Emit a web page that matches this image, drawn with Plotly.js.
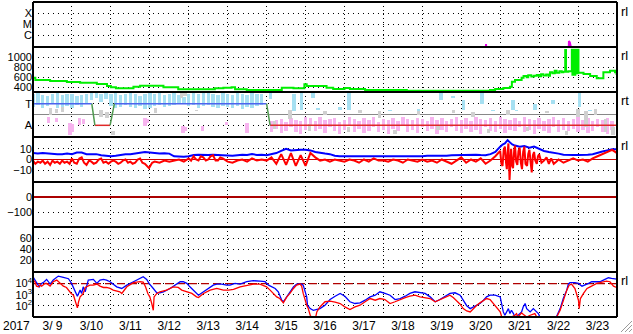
<!DOCTYPE html>
<html><head><meta charset="utf-8">
<script src="https://cdn.plot.ly/plotly-3.0.1.min.js"></script>
<style>html,body{margin:0;padding:0;background:#fff;}#chart{width:633px;height:334px;}</style>
</head><body><div id="chart"></div>
<script>
// ---------- DATA (day = day of March 2017, decimal) ----------
const xTickFormat = '%-m/%e';
const yearLabel = '2017';
const xrayLabels = ['C','M','X'];
const xrayTicks = [1e-6, 1e-5, 1e-4];
const xrayDay  = [9.0, 20.628, 20.636, 20.644, 22.76, 22.766, 22.79, 22.815, 22.83, 24.0];
const xrayFlux = [5e-8, 5e-8, 1.6e-7, 5e-8, 5e-8, 3.1e-7, 2.2e-7, 1.3e-7, 5e-8, 5e-8];

const speedTicks = [400, 600, 800, 1000];
const speedDay = [9.0,9.06,9.44,9.87,10.21,10.64,10.9,11.0,11.13,11.58,11.75,12.0,12.35,12.73,13.67,13.89,14.1,14.19,14.49,15.39,15.69,15.97,16.01,16.03,16.54,16.71,17.0,17.14,17.53,18.6,20.74,20.87,21.08,21.25,21.3,21.38,21.55,21.6,21.68,21.72,21.8,21.87,21.94,22.0,22.05,22.11,22.18,22.24,22.28,22.34,22.40,22.45,22.52,22.58,22.62,22.67,22.69,22.75,22.84,22.855,22.87,22.885,22.9,22.915,22.93,22.945,22.96,22.975,22.99,23.01,23.14,23.31,23.48,23.65,23.82,23.95,23.99];
const speedVal = [592,546,526,506,492,466,426,400,380,412,432,432,400,360,380,393,400,360,346,393,380,460,460,426,393,366,386,366,346,333,346,366,386,412,512,546,592,626,600,640,615,630,646,620,660,635,655,630,700,680,730,690,720,700,713,1146,713,720,1150,650,1140,700,1150,650,1150,700,1140,680,1150,693,666,626,580,700,733,700,646];

const stateLabels = ['T','A'];
const stateDay = [9.0, 10.51, 10.59, 10.98, 11.09, 15.0, 15.09, 24.0];
const stateVal = ['T','T','A','A','T','T','A','A'];

const cyanDay = [9.0,9.125,9.25,9.375,9.5,9.625,9.75,9.875,10.0,10.125,10.25,10.375,10.5,10.625,10.75,10.875,11.0,11.125,11.25,11.375,11.5,11.625,11.75,11.875,12.0,12.125,12.25,12.375,12.5,12.625,12.75,12.875,13.0,13.125,13.25,13.375,13.5,13.625,13.75,13.875,14.0,14.125,14.25,14.375,14.5,14.625,14.75,14.875,15.1,15.7,15.9,16.19,16.32,16.89,17.12,18.17,18.9,19.48,19.79,20.05,20.53,20.82,21.33,21.42,21.89,22.36,23.03,23.31];
const cyanLo  = [0.7,0.9,0.6,0.8,1.0,0.6,0.5,0.8,0.6,0.9,0.7,1.0,1.3,1.5,1.2,1.4,0.8,0.6,0.7,0.9,0.7,0.6,0.8,0.5,0.6,0.8,0.9,0.7,0.8,0.9,1.1,1.0,0.8,0.9,0.6,0.8,0.9,0.7,0.6,0.8,0.7,0.6,0.8,0.5,0.7,0.6,0.8,0.9,1.4,0.3,0.41,1.5,0.4,0.4,0.45,0.35,0.25,1.3,1.5,0.4,1.0,0.35,0.4,0.35,0.4,1.0,0.7,0.35];
const cyanHi  = [1.9,2.0,1.8,1.7,1.9,2.0,1.8,1.9,1.9,1.7,1.8,1.9,2.0,2.0,1.9,2.0,1.9,2.0,1.8,1.9,2.0,1.9,1.7,1.9,2.0,1.9,2.0,1.8,1.9,2.0,1.8,1.6,1.9,2.0,1.9,2.0,2.0,1.9,1.8,2.0,1.9,1.8,2.0,1.9,1.8,2.0,1.9,1.9,2.0,1.9,2.0,1.95,0.6,0.7,2.0,0.45,0.55,1.95,1.7,1.3,1.95,0.45,1.3,0.45,1.0,1.3,1.95,0.45];

const pinkDay = [9.4,9.6,9.95,10.02,10.2,10.3,11.88,11.93,12.85,12.92,13.35,13.97,14.5,15.125,15.25,15.375,15.5,15.625,15.75,15.875,16.0,16.125,16.25,16.375,16.5,16.625,16.75,16.875,17.0,17.125,17.25,17.375,17.5,17.625,17.75,17.875,18.0,18.125,18.25,18.375,18.5,18.625,18.75,18.875,19.0,19.125,19.25,19.375,19.5,19.625,19.75,19.875,20.0,20.125,20.25,20.375,20.5,20.625,20.75,20.875,21.0,21.125,21.25,21.375,21.5,21.625,21.75,21.875,22.0,22.125,22.25,22.375,22.5,22.625,22.75,22.875,23.0,23.125,23.25,23.375,23.5,23.625,23.75,23.875];
const pinkLo  = [-0.8,-0.7,-1.9,-1.6,-1.0,-0.9,-1.1,-0.8,-1.7,-1.5,-1.5,-1.0,-1.7,-1.6,-1.3,-1.7,-1.5,-1.2,-1.6,-1.8,-1.4,-1.0,-1.5,-1.3,-1.7,-1.2,-1.5,-1.8,-1.4,-1.1,-1.6,-1.3,-1.7,-1.5,-1.2,-1.6,-1.4,-1.8,-1.3,-1.5,-1.1,-1.6,-1.4,-1.7,-1.2,-1.5,-1.3,-1.8,-1.4,-1.6,-1.2,-1.5,-1.7,-1.3,-1.6,-1.4,-1.8,-1.2,-1.5,-1.6,-1.3,-1.7,-1.4,-1.5,-1.2,-1.6,-1.4,-1.8,-1.3,-1.5,-1.7,-1.2,-1.6,-1.4,-1.5,-1.3,-1.6,-1.4,-1.7,-1.5,-1.2,-1.6,-1.8,-1.4];
const pinkHi  = [-0.25,-0.3,-0.8,-0.9,-0.3,-0.4,-0.3,-0.4,-1.1,-1.2,-1.1,-0.7,-0.8,-0.6,-0.5,-0.4,-0.7,-0.3,-0.5,-0.6,-0.2,-0.3,-0.6,-0.2,-0.5,-0.4,-0.3,-0.7,-0.5,-0.2,-0.4,-0.6,-0.3,-0.5,-0.2,-0.7,-0.4,-0.5,-0.3,-0.6,-0.2,-0.4,-0.5,-0.3,-0.4,-0.6,-0.2,-0.5,-0.3,-0.6,-0.4,-0.2,-0.5,-0.3,-0.6,-0.2,-0.4,-0.5,-0.3,-0.6,-0.2,-0.4,-0.5,-0.3,-0.6,-0.2,-0.4,-0.5,-0.3,-0.6,-0.4,-0.2,-0.5,-0.3,-0.6,-0.4,-0.2,-0.5,-0.3,-0.6,-0.4,-0.5,-0.3,-0.6];

const grayDay = [9.45,9.6,9.75,10.75,10.9,11.05,12.15,12.82,12.9,13.2,15.2,15.6,16.1,16.5,17.1,17.4,17.9,18.3,18.9,19.4,19.8,20.3,20.7,21.2,21.7,22.2,22.7,23.0,23.2,23.45,23.7,23.9];
const grayLo  = [0.0,0.1,0.2,-0.2,-0.3,-1.9,0.1,1.5,1.7,0.3,-1.3,-0.4,-1.5,0.0,-1.6,0.1,-0.3,-1.8,0.0,-1.4,0.1,-0.2,-1.7,0.0,-1.5,0.1,-1.9,-0.2,-1.2,0.0,-1.6,-1.9];
const grayHi  = [0.6,0.5,0.7,0.4,0.2,-1.5,0.6,2.0,2.0,0.45,-0.6,0.4,-0.9,0.3,-1.2,0.4,0.3,-1.4,0.3,-1.0,0.4,0.2,-1.3,0.4,-1.2,0.3,-1.5,0.5,0.3,0.5,-0.4,-1.2];

const bTicks = [10, 0, -10];
const btDay = [9.0,9.125,9.25,9.375,9.5,9.625,9.75,9.875,10.0,10.125,10.25,10.375,10.5,10.625,10.75,10.875,11.0,11.125,11.25,11.375,11.5,11.625,11.75,11.875,12.0,12.125,12.25,12.375,12.5,12.625,12.75,12.875,13.0,13.125,13.25,13.375,13.5,13.625,13.75,13.875,14.0,14.125,14.25,14.375,14.5,14.625,14.75,14.875,15.0,15.125,15.25,15.375,15.5,15.625,15.75,15.875,16.0,16.125,16.25,16.375,16.5,16.625,16.75,16.875,17.0,17.125,17.25,17.375,17.5,17.625,17.75,17.875,18.0,18.125,18.25,18.375,18.5,18.625,18.75,18.875,19.0,19.125,19.25,19.375,19.5,19.625,19.75,19.875,20.0,20.125,20.25,20.375,20.5,20.625,20.75,20.875,21.0,21.06,21.12,21.19,21.25,21.31,21.38,21.5,21.62,21.75,21.87,22.0,22.125,22.25,22.375,22.5,22.625,22.75,22.875,23.0,23.125,23.25,23.375,23.5,23.625,23.75,23.875,24.0];
const btVal = [6,5.5,6,5.5,5,5,5,5.5,5,6.5,6.5,5,5,5,4,3.5,3,3.5,4.5,5,5,5.5,6.5,7,6.5,6,5.5,5.8,5.5,3,2.6,2.6,3,4.2,4.5,4,4.2,4.5,4.2,4,4.2,3.5,4,4.5,4.2,5,4.2,4.5,4,5,6,8,10,8.5,9,9,9,8.5,7,6,5.5,5,3.5,3,3,2.8,2.6,2.6,3,2.8,2.6,3,2.8,3,2.6,2.6,3,3.2,2.6,2.6,3,3.5,3.5,3.5,3.2,3.5,4,4.2,4.2,4,4.2,4.5,4.2,4,5,7,12,14,15,18,16,14,13,12,12.5,11,12,10,8,7,6.5,5.5,4.5,4,4.2,4.2,4,4.5,5,6.5,7.5,8.5,9.5,9.5];

const bzDay = [9.0,9.06,9.125,9.19,9.25,9.31,9.375,9.44,9.5,9.56,9.625,9.69,9.75,9.81,9.875,9.94,10.0,10.06,10.125,10.19,10.25,10.31,10.375,10.44,10.5,10.56,10.625,10.69,10.75,10.81,10.875,10.94,11.0,11.06,11.125,11.19,11.25,11.31,11.375,11.44,11.5,11.56,11.625,11.69,11.75,11.81,11.875,11.98,12.06,12.125,12.25,12.375,12.5,12.625,12.75,12.875,13.0,13.06,13.125,13.19,13.25,13.31,13.375,13.44,13.5,13.56,13.625,13.69,13.75,13.81,13.875,14.0,14.125,14.25,14.375,14.5,14.625,14.75,14.875,15.0,15.125,15.25,15.375,15.5,15.625,15.75,15.875,16.0,16.125,16.25,16.375,16.5,16.625,16.75,16.875,17.0,17.125,17.25,17.375,17.5,17.625,17.75,17.875,18.0,18.125,18.25,18.375,18.5,18.625,18.75,18.875,19.0,19.125,19.25,19.375,19.5,19.625,19.75,19.875,20.0,20.125,20.25,20.375,20.5,20.625,20.75,20.875,21.0,21.03,21.06,21.09,21.12,21.15,21.17,21.19,21.21,21.24,21.26,21.28,21.31,21.33,21.36,21.38,21.41,21.44,21.47,21.5,21.53,21.56,21.59,21.62,21.65,21.69,21.72,21.75,21.78,21.81,21.84,21.87,21.9,21.94,21.97,22.0,22.06,22.125,22.19,22.25,22.31,22.375,22.44,22.5,22.625,22.75,22.875,23.0,23.125,23.25,23.375,23.5,23.625,23.75,23.875,24.0];
const bzVal = [-1,-4,-2,-3,-1,-4,-2,-5,-1,-3,-2,-4,-1,-3,-2,-4,1,-3,-4,1,2,-3,-5,-1,-2,-4,-3,0,1,-3,-2,-4,-2,-1,-2,-4,-3,-1,0,-3,-2,-4,-3,0,1,-3,-4,-8,-3,-2,-3,-1,-2,-1,0,-2,1,-1,3,0,-1,3,2,-1,0,3,4,-1,-1,2,1,-2,-3,-1,0,-2,1,-1,0,-1,2,-4,5,-5,6,-6,4,-6,6,2,-1,0,-2,0,-1,-2,0,-1,-3,0,-2,1,-1,-1,-2,0,-1,-3,0,-1,-2,0,-2,-1,-3,0,-2,-4,-1,2,-3,0,-2,1,-4,-1,3,8,-4,-6,9,12,-3,-9,6,15,-19,4,10,-6,-8,9,13,-2,-5,8,11,-3,-9,7,12,-4,-6,5,9,-2,-12,4,7,-1,-4,3,5,-3,-1,2,-4,1,-4,-2,0,-3,-1,1,-1,0,-2,1,3,5,7,9,6];

const dstTicks = [0, -100];
const p6Ticks = [20, 40, 60];

const eTicks = [100, 1000, 10000];
const eTickText = ['10<sup>2</sup>','10<sup>3</sup>','10<sup>4</sup>'];
const eThreshold = 10000;
const eBlueDay = [9.00,9.05,9.11,9.16,9.22,9.29,9.35,9.44,9.52,9.65,9.78,9.91,9.99,10.08,10.14,10.21,10.25,10.29,10.34,10.42,10.55,10.64,10.72,10.81,10.89,10.98,11.15,11.28,11.41,11.58,11.75,11.83,11.92,11.98,12.09,12.18,12.26,12.35,12.52,12.65,12.78,12.86,12.95,13.03,13.16,13.25,13.38,13.50,13.63,13.72,13.85,13.97,14.06,14.19,14.32,14.49,14.66,14.83,14.96,15.05,15.13,15.22,15.30,15.39,15.43,15.52,15.60,15.69,15.77,15.90,15.94,15.99,16.03,16.05,16.12,16.20,16.29,16.37,16.50,16.63,16.76,16.89,17.01,17.14,17.27,17.40,17.53,17.66,17.79,17.91,18.04,18.17,18.30,18.43,18.56,18.68,18.81,18.94,19.07,19.20,19.33,19.45,19.58,19.71,19.84,19.97,20.05,20.14,20.23,20.31,20.40,20.48,20.57,20.65,20.74,20.87,21.00,21.04,21.08,21.12,21.17,21.21,21.25,21.29,21.34,21.38,21.46,21.55,21.59,21.64,21.68,21.77,21.85,21.94,21.98,22.02,22.10,22.38,22.45,22.54,22.62,22.71,22.75,22.79,22.92,23.01,23.10,23.18,23.27,23.35,23.44,23.56,23.69,23.78,23.86,23.99];
const eBlueExp = [4.62,4.32,3.96,3.71,4.02,4.17,4.38,3.96,4.32,4.68,4.56,4.44,4.02,3.41,2.86,3.41,3.11,3.71,3.26,4.32,4.38,4.02,4.32,4.38,4.32,4.17,3.71,3.56,3.86,4.17,4.47,4.62,4.38,4.02,3.56,3.17,3.17,3.26,3.56,3.86,4.17,4.17,4.02,3.71,3.26,2.95,3.26,3.56,3.86,3.95,3.95,3.86,3.86,4.02,3.95,4.17,4.26,4.23,4.17,3.86,3.71,3.56,3.26,2.50,2.36,2.80,3.26,3.71,3.95,3.95,3.86,3.26,2.80,2.05,1.74,1.59,1.65,1.74,2.05,2.56,2.86,3.11,2.86,2.36,2.20,2.26,2.50,2.80,2.95,3.26,3.11,2.95,2.56,2.65,2.86,3.11,3.26,3.20,3.11,2.80,2.36,2.56,2.80,3.11,3.17,2.95,2.50,2.00,1.74,1.89,2.05,2.20,2.50,2.80,2.95,2.95,2.80,2.05,1.44,1.14,1.44,1.74,1.29,1.59,1.29,0.98,1.14,1.44,1.89,2.20,1.74,1.44,1.74,1.44,1.29,0.98,0.50,0.50,0.98,1.74,2.65,3.41,3.95,4.08,4.08,4.02,3.77,3.86,4.02,4.17,4.17,4.17,4.38,4.53,4.47,4.41];
const eRedDay = [9.00,9.05,9.09,9.14,9.18,9.22,9.31,9.35,9.44,9.52,9.61,9.69,9.78,9.86,9.91,9.98,10.04,10.10,10.14,10.17,10.21,10.25,10.29,10.34,10.40,10.46,10.55,10.64,10.72,10.81,10.89,10.98,11.06,11.15,11.23,11.28,11.41,11.58,11.75,11.83,11.89,11.95,12.00,12.05,12.09,12.11,12.18,12.26,12.43,12.60,12.73,12.82,12.95,13.08,13.20,13.25,13.38,13.55,13.72,13.89,14.02,14.15,14.32,14.49,14.66,14.83,14.92,15.00,15.09,15.17,15.26,15.34,15.43,15.52,15.60,15.69,15.77,15.86,15.90,15.94,15.99,16.03,16.07,16.10,16.12,16.18,16.25,16.29,16.37,16.50,16.63,16.76,16.89,17.01,17.14,17.27,17.40,17.53,17.66,17.79,17.91,18.04,18.17,18.30,18.43,18.56,18.68,18.81,18.94,19.07,19.20,19.33,19.45,19.58,19.71,19.80,19.88,19.97,20.05,20.14,20.23,20.31,20.40,20.48,20.57,20.65,20.74,20.82,20.91,21.00,21.04,21.12,21.38,21.42,21.46,21.55,21.59,21.68,21.77,21.89,21.94,22.02,22.37,22.45,22.54,22.62,22.71,22.77,22.83,22.92,22.97,23.01,23.03,23.06,23.14,23.23,23.31,23.39,23.48,23.56,23.65,23.73,23.82,23.91,23.99];
const eRedExp = [4.32,4.17,3.77,3.71,3.86,3.77,4.02,4.02,3.77,4.17,4.32,4.02,3.77,3.65,3.41,3.11,2.95,2.35,1.80,2.35,2.80,2.95,3.11,3.65,3.77,3.86,3.86,3.96,3.77,3.65,3.65,3.56,3.41,3.35,3.26,3.11,3.71,4.08,4.17,4.14,3.71,3.11,2.80,2.20,1.59,2.80,3.11,3.26,3.41,3.71,3.65,3.41,3.26,3.11,2.80,2.74,3.11,3.41,3.56,3.41,3.41,3.47,3.71,3.86,3.95,3.95,3.86,3.71,3.41,3.11,2.80,2.65,2.26,2.80,3.11,3.56,3.86,3.95,3.77,3.11,2.36,2.05,1.74,1.29,1.14,0.80,0.80,1.44,1.89,2.36,2.41,2.32,2.20,1.89,1.65,1.89,2.05,2.36,2.65,2.50,2.65,2.56,2.20,2.36,2.56,2.74,2.86,2.95,2.80,2.74,2.65,2.36,2.56,2.80,2.95,2.72,2.44,2.14,1.74,1.53,1.44,1.74,2.05,2.26,2.44,2.65,2.56,2.20,1.89,1.44,0.98,0.70,1.14,1.29,0.98,1.35,1.23,0.98,1.14,1.29,0.98,0.70,0.70,0.98,1.59,2.50,3.41,3.86,3.95,3.56,2.95,2.50,1.74,2.65,3.11,3.56,3.71,3.86,4.02,4.08,4.17,4.23,4.17,3.77,3.65];

const sideLabels = ['rl','rl','rt','rl','rl'];

// ---------- helpers ----------
function dt(d){
  const ms = Date.UTC(2017,2,1) + Math.round((d-1)*86400000);
  return new Date(ms).toISOString().replace('T',' ').slice(0,19);
}
const X = a => a.map(dt);
const pow10 = a => a.map(v => Math.pow(10, v));
const FONT = 'Liberation Sans, Arial, sans-serif';
const H = 3600000;

// T/A state segments
const lvl = {T:1, A:-1};
const segT={x:[],y:[]}, segA={x:[],y:[]}, segX={x:[],y:[]};
for (let i=0;i<stateDay.length-1;i++){
  const a=stateVal[i], b=stateVal[i+1];
  const t = (a==='T'&&b==='T')?segT:(a==='A'&&b==='A')?segA:segX;
  t.x.push(dt(stateDay[i]), dt(stateDay[i+1]), null);
  t.y.push(lvl[a], lvl[b], null);
}
function rangeBar(day, lo, hi, color){
  return {type:'bar', x:X(day), base:lo, y:hi.map((h,i)=>h-lo[i]), yaxis:'y5',
    width:2.1*H, marker:{color:color, line:{width:0}}, hoverinfo:'skip'};
}

const traces = [
  {x:X(xrayDay), y:xrayFlux, yaxis:'y7', mode:'lines', line:{color:'#e600e6', width:2}},
  {x:X(speedDay), y:speedVal, yaxis:'y6', mode:'lines', line:{color:'#00ee00', width:2, shape:'hv'}},
  rangeBar(cyanDay, cyanLo, cyanHi, '#a6e0f2'),
  rangeBar(pinkDay, pinkLo, pinkHi, '#f7b4ef'),
  rangeBar(grayDay, grayLo, grayHi, '#d0d0d0'),
  {x:segT.x, y:segT.y, yaxis:'y5', mode:'lines', line:{color:'#4d63ee', width:1.5}},
  {x:segA.x, y:segA.y, yaxis:'y5', mode:'lines', line:{color:'#e02828', width:1.5}},
  {x:segX.x, y:segX.y, yaxis:'y5', mode:'lines', line:{color:'#4f9a4f', width:1.5}},
  {x:X(btDay), y:btVal, yaxis:'y4', mode:'lines', line:{color:'#0000ff', width:2}},
  {x:X(bzDay), y:bzVal, yaxis:'y4', mode:'lines', line:{color:'#ff0000', width:2}},
  {x:[dt(9), dt(24)], y:[null, null], yaxis:'y3', mode:'lines'},
  {x:[dt(9), dt(24)], y:[null, null], yaxis:'y2', mode:'lines'},
  {x:[dt(9), dt(24)], y:[eThreshold, eThreshold], yaxis:'y', mode:'lines', line:{color:'#b00000', width:1.2, dash:'8px,4px'}},
  {x:X(eBlueDay), y:pow10(eBlueExp), yaxis:'y', mode:'lines', line:{color:'#0000ff', width:1.3}},
  {x:X(eRedDay), y:pow10(eRedExp), yaxis:'y', mode:'lines', line:{color:'#ff0000', width:1.3}}
];

function yax(i, extra){
  return Object.assign({anchor:'x', domain:[i/7,(i+1)/7], showgrid:true, gridcolor:'#000', gridwidth:1,
    griddash:'1px,4px', zeroline:false, showline:false, ticks:'', fixedrange:true,
    tickfont:{family:FONT, size:11, color:'#000'}}, extra);
}

const shapes = [];
for (let k=0;k<=7;k++){
  shapes.push({type:'line', xref:'paper', yref:'paper', x0:0, x1:1, y0:k/7, y1:k/7, line:{color:'#000', width:2}});
}
shapes.push({type:'line', xref:'paper', yref:'paper', x0:0, x1:0, y0:0, y1:1, line:{color:'#000', width:2}});
shapes.push({type:'line', xref:'paper', yref:'paper', x0:1, x1:1, y0:0, y1:1, line:{color:'#000', width:2}});
// window resize grip
const px = v => (v-33)/584, py = v => (317-v)/315;
[[632,321,621,332],[632,325,625,332],[632,329,629,332]].forEach(s=>{
  shapes.push({type:'line', xref:'paper', yref:'paper', x0:px(s[0]), y0:py(s[1]), x1:px(s[2]), y1:py(s[3]), line:{color:'#9a9a9a', width:1}});
});

const sideY = [11, 56, 100, 145, 280];
const annotations = sideLabels.map((t,i)=>({xref:'paper', yref:'paper', x:px(619), y:py(sideY[i]), text:t,
  showarrow:false, xanchor:'left', yanchor:'middle', font:{family:FONT, size:13, color:'#000'}}));
annotations.push({xref:'paper', yref:'paper', x:px(16), y:py(326), text:yearLabel, showarrow:false,
  xanchor:'center', yanchor:'middle', font:{family:FONT, size:12, color:'#000'}});

const layout = {
  width:633, height:334, margin:{l:33, r:16, t:2, b:17},
  paper_bgcolor:'#fff', plot_bgcolor:'#fff', showlegend:false, barmode:'overlay', bargap:0,
  xaxis:{type:'date', anchor:'y', range:[dt(9), dt(24)], tick0:dt(9), dtick:86400000,
    ticklabelmode:'period', tickformat:xTickFormat, showgrid:true, gridcolor:'#000', gridwidth:1,
    griddash:'1px,3px', zeroline:false, showline:false, ticks:'', fixedrange:true,
    tickfont:{family:FONT, size:12, color:'#000'}},
  yaxis:  yax(0, {type:'log', range:[0.98, 5.05], tickvals:eTicks, ticktext:eTickText}),
  yaxis2: yax(1, {range:[-1.3, 80.5], tickvals:p6Ticks}),
  yaxis3: yax(2, {range:[-200, 100], tickvals:dstTicks, zeroline:true, zerolinecolor:'#aa0000', zerolinewidth:1.2}),
  yaxis4: yax(3, {range:[-21, 21], tickvals:bTicks, zeroline:true, zerolinecolor:'#cc0000', zerolinewidth:1.2}),
  yaxis5: yax(4, {range:[-2.08, 2.08], tickvals:[1,-1], ticktext:stateLabels, zeroline:true, zerolinecolor:'#888', zerolinewidth:1.5}),
  yaxis6: yax(5, {range:[306, 1206], tickvals:speedTicks}),
  yaxis7: yax(6, {type:'log', range:[-7.06, -2.97], tickvals:xrayTicks, ticktext:xrayLabels}),
  shapes:shapes, annotations:annotations
};

Plotly.newPlot('chart', traces, layout, {staticPlot:true, displayModeBar:false});
</script></body></html>
